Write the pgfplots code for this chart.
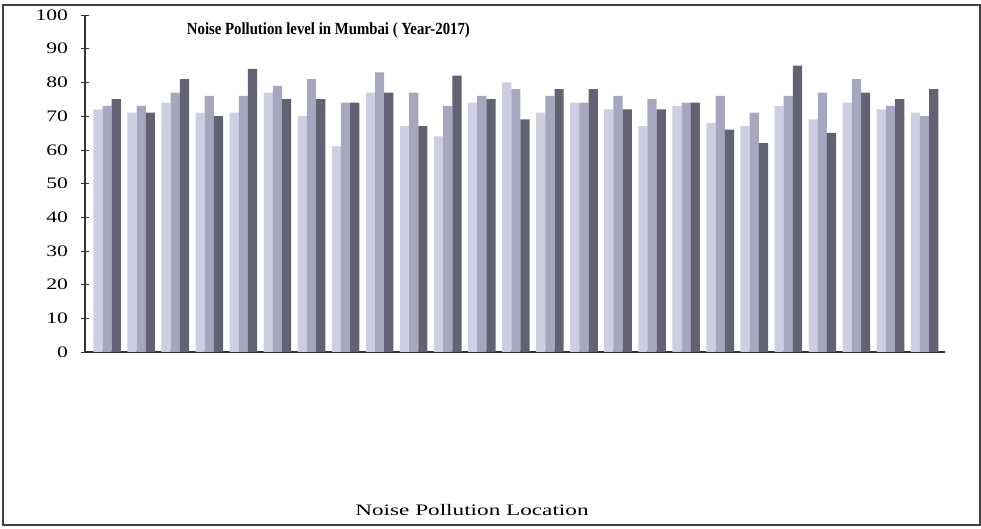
\documentclass[border=0pt]{standalone}
\usepackage{pgfplots}
\pgfplotsset{compat=1.18}
\usepackage{pgfplotstable}
\usepackage{fontspec}
\setmainfont{Liberation Serif}
\usepackage{graphicx}
\definecolor{cLight}{RGB}{206,206,226}
\definecolor{cMid}{RGB}{166,166,190}
\definecolor{cDark}{RGB}{98,98,116}

\pgfplotstableread{
g light mid dark
1 72 73 75
2 71 73 71
3 74 77 81
4 71 76 70
5 71 76 84
6 77 79 75
7 70 81 75
8 61 74 74
9 77 83 77
10 67 77 67
11 64 73 82
12 74 76 75
13 80 78 69
14 71 76 78
15 74 74 78
16 72 76 72
17 67 75 72
18 73 74 74
19 68 76 66
20 67 71 62
21 73 76 85
22 69 77 65
23 74 81 77
24 72 73 75
25 71 70 78
}\noisedata

\begin{document}
\begin{tikzpicture}
\useasboundingbox (-42.5pt,-88.5pt) rectangle (448pt,176pt);
\draw[line width=0.8pt, black!75] (-41pt,-86.5pt) rectangle (447.5pt,173.5pt);
\begin{axis}[at={(0,0)}, anchor=south west, scale only axis,
  width=430pt, height=168.5pt,
  ybar=0pt, bar width=0.27,
  xmin=0.35, xmax=25.6, ymin=0, ymax=100,
  ytick={0,10,...,100}, xtick=\empty,
  axis x line*=bottom, axis y line*=left,
  axis line style={-, black!80, line width=0.6pt},
  tick align=center, major tick length=4pt,
  tick style={black!80},
  /pgf/number format/assume math mode=true,
  yticklabel style={font=\fontsize{8}{9}\selectfont, xshift=-3pt},
  yticklabel={\scalebox{1.35}[1]{\pgfmathprintnumber{\tick}}},
  clip=false,
]
\addplot[fill=cLight, draw=none] table[x=g,y=light]{\noisedata};
\addplot[fill=cMid, draw=none] table[x=g,y=mid]{\noisedata};
\addplot[fill=cDark, draw=none] table[x=g,y=dark]{\noisedata};
\node[font=\bfseries\fontsize{8.5}{10}\selectfont] at (axis description cs:0.283,0.955) {\scalebox{0.87}[1]{Noise Pollution level in Mumbai ( Year-2017)}};
\node[font=\fontsize{8}{9}\selectfont] at (axis description cs:0.45,-0.469) {\scalebox{1.45}[1]{Noise Pollution Location}};
\end{axis}
\end{tikzpicture}
\end{document}
